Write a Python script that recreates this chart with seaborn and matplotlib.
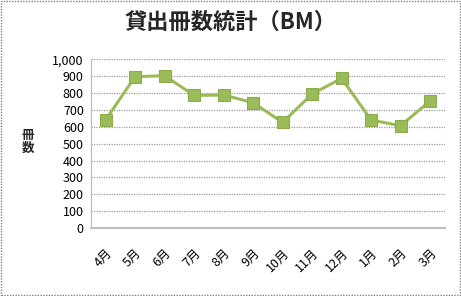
import matplotlib
matplotlib.use("Agg")
import matplotlib.pyplot as plt
import seaborn as sns
import pandas as pd
from matplotlib.ticker import FuncFormatter, MultipleLocator
from matplotlib.patches import Rectangle

months = ["4月", "5月", "6月", "7月", "8月", "9月", "10月", "11月", "12月", "1月", "2月", "3月"]
counts = [641, 898, 904, 787, 789, 744, 627, 795, 888, 641, 607, 754]
title = "貸出冊数統計（BM）"
ylabel = "冊\n数"

sns.set_theme(style="white")
plt.rcParams['font.family'] = ['Noto Sans CJK JP', 'DejaVu Sans']

df = pd.DataFrame({"month": months, "count": counts})

fig = plt.figure(figsize=(4.61, 2.96), dpi=100)
ax = fig.add_axes([0.197, 0.2297, 0.768, 0.5693])

sns.lineplot(data=df, x="month", y="count", ax=ax, sort=False,
             color="#9BBB59", linewidth=2.2, marker="s", markersize=8,
             markerfacecolor="#9BBB59", markeredgecolor="#8CAA4E", markeredgewidth=0.8)

ax.set_ylim(0, 1000)
ax.set_xlim(-0.5, len(months) - 0.5)
ax.yaxis.set_major_locator(MultipleLocator(100))
ax.yaxis.set_major_formatter(FuncFormatter(lambda v, p: f"{int(v):,}"))
ax.grid(axis="y", linestyle=(0, (1, 1)), color="#9A9A9A", linewidth=0.9)
ax.set_axisbelow(True)
ax.set_xlabel("")
ax.set_ylabel("")
for s in ["top", "right"]:
    ax.spines[s].set_visible(False)
ax.spines["left"].set_color("#BFBFBF")
ax.spines["left"].set_linewidth(0.9)
ax.spines["bottom"].set_color("#BFBFBF")
ax.spines["bottom"].set_linewidth(1.5)
ax.tick_params(axis="y", length=0, labelsize=9, colors="black", pad=5)
ax.tick_params(axis="x", length=0, labelsize=9, colors="black", pad=13)
plt.setp(ax.get_xticklabels(), rotation=45, ha="right", rotation_mode="anchor")

fig.text(0.50, 0.925, title, ha="center", va="center", fontsize=16, fontweight="bold")
fig.text(0.06, 0.52, ylabel, ha="center", va="center", fontsize=9,
         fontweight="bold", linespacing=1.0)

fig.patches.append(Rectangle((0.002, 0.003), 0.996, 0.994, transform=fig.transFigure,
                             fill=False, edgecolor="#7F7F7F", linewidth=1.0,
                             linestyle=(0, (1, 1))))

fig.savefig("out.png", dpi=100)
